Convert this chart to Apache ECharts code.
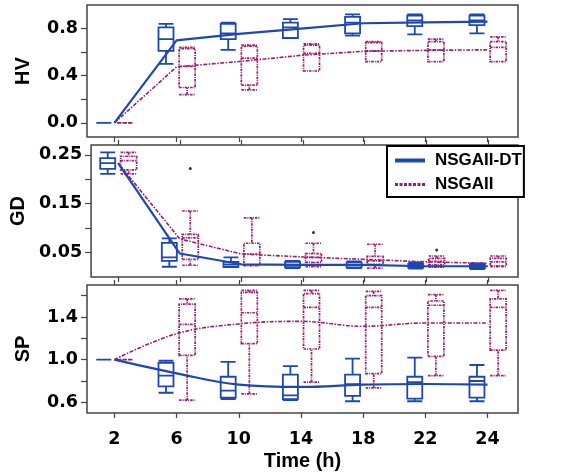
<!DOCTYPE html>
<html>
<head>
<meta charset="utf-8">
<script src="https://cdn.jsdelivr.net/npm/echarts@6/dist/echarts.min.js"></script>
<style>
html, body { margin: 0; background: #fff; }
#chart { width: 574px; height: 472px; }
</style>
</head>
<body>
<div id="chart"></div>
<script>
// time points (h), equally spaced on the axis
const hours = ['2', '6', '10', '14', '18', '22', '24'];

// box stats per time: [min, Q1, median, Q3, max]
const hvDT = [[0, 0, 0, 0, 0], [0.50, 0.61, 0.71, 0.81, 0.84], [0.62, 0.71, 0.76, 0.84, 0.85],
  [0.72, 0.72, 0.81, 0.85, 0.88], [0.74, 0.76, 0.85, 0.90, 0.92], [0.75, 0.82, 0.87, 0.91, 0.92],
  [0.76, 0.83, 0.87, 0.91, 0.92]];
const hvNS = [[0, 0, 0, 0, 0], [0.24, 0.30, 0.48, 0.63, 0.64], [0.28, 0.32, 0.55, 0.65, 0.66],
  [0.44, 0.44, 0.59, 0.66, 0.67], [0.52, 0.52, 0.61, 0.68, 0.69], [0.52, 0.52, 0.62, 0.69, 0.71],
  [0.52, 0.52, 0.64, 0.69, 0.73]];
const hvMeanDT = [0, 0.70, 0.755, 0.80, 0.845, 0.853, 0.859];
const hvMeanNS = [0, 0.475, 0.52, 0.573, 0.607, 0.615, 0.62];

const gdDT = [[0.211, 0.221, 0.233, 0.243, 0.255], [0.021, 0.033, 0.040, 0.070, 0.079],
  [0.020, 0.021, 0.026, 0.031, 0.040], [0.018, 0.020, 0.025, 0.031, 0.033],
  [0.018, 0.019, 0.024, 0.030, 0.032], [0.017, 0.019, 0.023, 0.027, 0.030],
  [0.016, 0.018, 0.022, 0.026, 0.028]];
const gdNS = [[0.211, 0.219, 0.238, 0.247, 0.255], [0.024, 0.036, 0.080, 0.087, 0.135],
  [0.023, 0.024, 0.047, 0.069, 0.121], [0.021, 0.030, 0.040, 0.048, 0.069],
  [0.018, 0.026, 0.033, 0.042, 0.067], [0.020, 0.025, 0.032, 0.038, 0.043],
  [0.021, 0.023, 0.031, 0.038, 0.043]];
const gdMeanDT = [0.233, 0.048, 0.026, 0.025, 0.025, 0.022, 0.022];
const gdMeanNS = [0.233, 0.078, 0.047, 0.041, 0.036, 0.031, 0.028];
// NSGAII outliers: [time index, value]
const gdOutNS = [[1, 0.222], [3, 0.091], [5, 0.055]];

const spDT = [[1, 1, 1, 1, 1], [0.69, 0.75, 0.85, 0.97, 0.99], [0.63, 0.644, 0.71, 0.84, 0.98],
  [0.62, 0.63, 0.665, 0.86, 0.94], [0.61, 0.66, 0.77, 0.86, 1.01], [0.61, 0.635, 0.79, 0.84, 1.02],
  [0.61, 0.645, 0.80, 0.84, 0.95]];
const spNS = [[1, 1, 1, 1, 1], [0.62, 1.04, 1.33, 1.52, 1.57], [0.68, 1.15, 1.44, 1.63, 1.65],
  [0.79, 1.10, 1.49, 1.62, 1.65], [0.735, 0.87, 1.49, 1.60, 1.64], [0.85, 1.03, 1.51, 1.55, 1.61],
  [0.85, 1.09, 1.49, 1.57, 1.65]];
const spMeanDT = [1.0, 0.872, 0.766, 0.744, 0.766, 0.772, 0.766];
const spMeanNS = [1.0, 1.243, 1.335, 1.359, 1.313, 1.344, 1.344];

const BLUE = '#1c47b5';
const PURPLE = '#9b1d6d';
const AXIS = '#444';
const SHIFT = 0.17; // box offset from the tick, in time slots

const panels = [
  { name: 'HV', min: -0.12, max: 1.0, ticks: [0, 0.2, 0.4, 0.6, 0.8], labels: [0, 0.4, 0.8], dec: 1,
    dt: hvDT, ns: hvNS, mdt: hvMeanDT, mns: hvMeanNS, smooth: false },
  { name: 'GD', min: 0, max: 0.27, ticks: [0.05, 0.1, 0.15, 0.2, 0.25], labels: [0.05, 0.15, 0.25], dec: 2,
    dt: gdDT, ns: gdNS, mdt: gdMeanDT, mns: gdMeanNS, smooth: false, out: gdOutNS },
  { name: 'SP', min: 0.5, max: 1.7, ticks: [0.6, 0.8, 1.0, 1.2, 1.4, 1.6], labels: [0.6, 1.0, 1.4], dec: 1,
    dt: spDT, ns: spNS, mdt: spMeanDT, mns: spMeanNS, smooth: 0.4 }
];

const idx = hours.map((h, i) => i);
const labelFont = { fontFamily: 'DejaVu Sans', fontWeight: 'bold', fontSize: 17.5, color: '#000' };
const nameFont = { fontFamily: 'Liberation Sans', fontWeight: 'bold', fontSize: 20, color: '#000' };

const grid = [], xAxis = [], yAxis = [], series = [];
panels.forEach((p, g) => {
  grid.push({ left: 87, width: 431, top: 5 + g * 140, height: 132, show: true,
    borderColor: AXIS, borderWidth: 1.5, backgroundColor: '#fff' });
  const last = g === panels.length - 1;
  const base = { type: 'value', gridIndex: g, min: -0.44, max: 6.49, splitLine: { show: false },
    axisLine: { show: false, onZero: false } };
  // visible bottom axis (DT boxes, lines)
  xAxis.push(Object.assign({}, base, {
    position: 'bottom',
    axisTick: { customValues: idx, length: 5, lineStyle: { color: AXIS, width: 1.2 } },
    axisLabel: { show: last, customValues: idx, margin: 17, formatter: v => hours[Math.round(v)], ...labelFont },
    name: last ? 'Time (h)' : '', nameLocation: 'middle', nameGap: 38, nameTextStyle: nameFont
  }));
  // hidden twin axis for the NSGAII boxes
  xAxis.push(Object.assign({}, base, { show: false }));
  // ticks on the top edge
  xAxis.push(Object.assign({}, base, {
    position: 'top', show: g > 0,
    axisTick: { customValues: idx, length: 5, lineStyle: { color: AXIS, width: 1.2 } },
    axisLabel: { show: false }
  }));
  yAxis.push({
    type: 'value', gridIndex: g, min: p.min, max: p.max, splitLine: { show: false },
    axisLine: { show: false, onZero: false },
    axisTick: { customValues: p.ticks, length: 6, lineStyle: { color: AXIS, width: 1.2 } },
    axisLabel: { customValues: p.labels, margin: 9, formatter: v => v.toFixed(p.dec), ...labelFont },
    name: p.name, nameLocation: 'middle', nameRotate: 90, nameGap: 54, nameTextStyle: nameFont
  });

  series.push({
    name: 'NSGAII-DT box', type: 'boxplot', xAxisIndex: g * 3, yAxisIndex: g,
    boxWidth: [15, 15], silent: true,
    itemStyle: { color: 'rgba(255,255,255,0)', borderColor: BLUE, borderWidth: 1.8 },
    data: p.dt.map((b, i) => [i - SHIFT].concat(b))
  });
  series.push({
    name: 'NSGAII box', type: 'boxplot', xAxisIndex: g * 3 + 1, yAxisIndex: g,
    boxWidth: [16, 16], silent: true,
    itemStyle: { color: 'rgba(255,255,255,0)', borderColor: PURPLE, borderWidth: 1.7, borderType: [2.5, 1, 1, 1] },
    data: p.ns.map((b, i) => [i + SHIFT].concat(b))
  });
  series.push({
    name: 'NSGAII', type: 'line', xAxisIndex: g * 3, yAxisIndex: g, showSymbol: false, silent: true,
    smooth: p.smooth, lineStyle: { color: PURPLE, width: 1.6, type: [4, 1.5, 1.5, 1.5] }, itemStyle: { color: PURPLE },
    data: p.mns.map((v, i) => [i, v])
  });
  series.push({
    name: 'NSGAII-DT', type: 'line', xAxisIndex: g * 3, yAxisIndex: g, showSymbol: false, silent: true,
    smooth: p.smooth, lineStyle: { color: BLUE, width: 2.2 }, itemStyle: { color: BLUE },
    data: p.mdt.map((v, i) => [i, v])
  });
  if (p.out) {
    series.push({
      name: 'outliers', type: 'scatter', xAxisIndex: g * 3, yAxisIndex: g, silent: true,
      symbolSize: 3, itemStyle: { color: '#000' },
      data: p.out.map(o => [o[0] + SHIFT, o[1]])
    });
  }
});

const chart = echarts.init(document.getElementById('chart'), null, { renderer: 'canvas' });
chart.setOption({
  animation: false,
  backgroundColor: '#fff',
  grid: grid,
  xAxis: xAxis,
  yAxis: yAxis,
  legend: {
    data: [
      { name: 'NSGAII-DT', lineStyle: { width: 4 } },
      { name: 'NSGAII', lineStyle: { width: 3, type: [3, 1.5] } }
    ],
    orient: 'vertical', left: 387, top: 146, z: 10,
    backgroundColor: '#fff', borderColor: '#000', borderWidth: 2, borderRadius: 0,
    padding: [6, 2, 4, 6], itemGap: 7, itemWidth: 30, itemHeight: 14,
    selectedMode: false,
    itemStyle: { color: 'rgba(0,0,0,0)', borderWidth: 0, opacity: 0 },
    textStyle: { fontFamily: 'Liberation Sans', fontWeight: 'bold', fontSize: 17, color: '#000', padding: [0, 0, 0, 5] }
  },
  series: series
});
</script>
</body>
</html>
